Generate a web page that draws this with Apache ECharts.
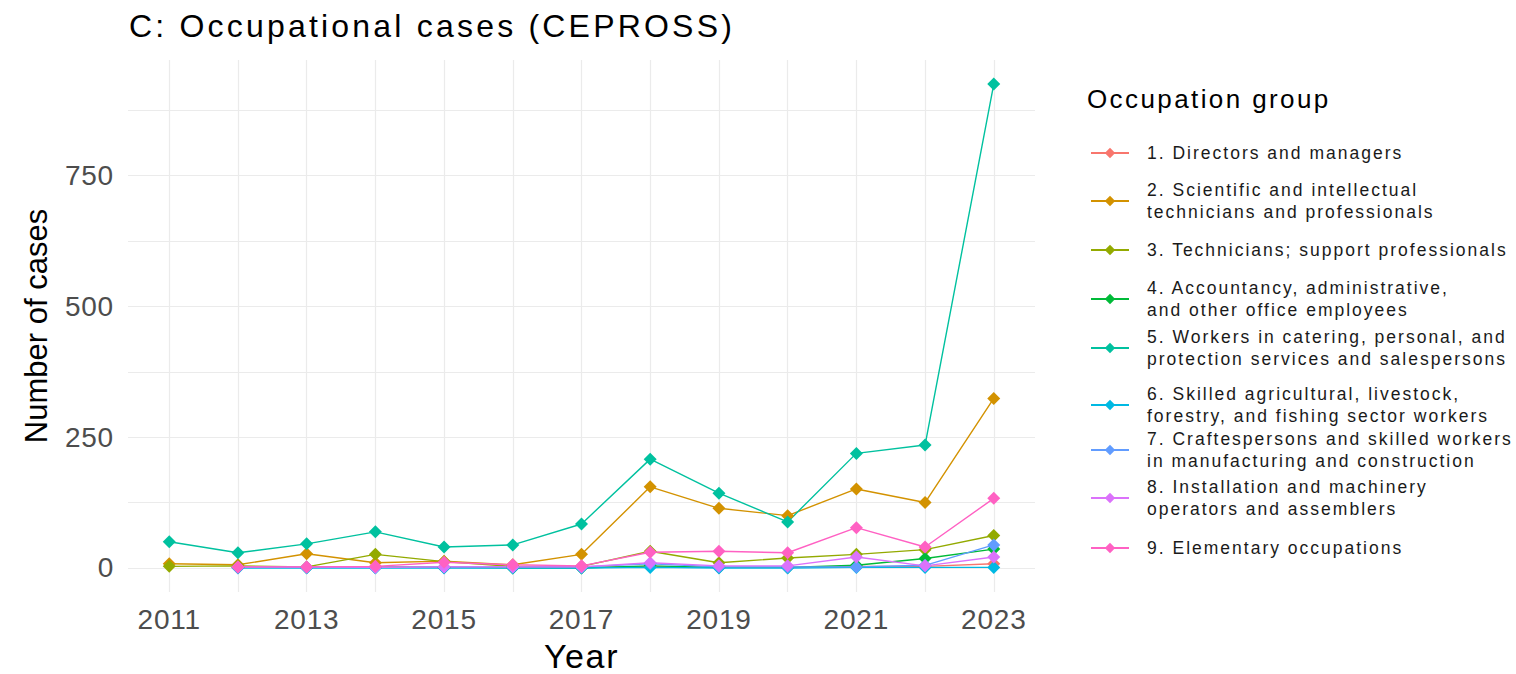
<!DOCTYPE html>
<html><head><meta charset="utf-8">
<script src="https://cdn.jsdelivr.net/npm/echarts@6/dist/echarts.min.js"></script>
<style>html,body{margin:0;padding:0;background:#fff}#c{width:1516px;height:674px}</style>
</head><body><div id="c"></div>
<script>
const years = [2011,2012,2013,2014,2015,2016,2017,2018,2019,2020,2021,2022,2023];
const xLabelYears = [2011,2013,2015,2017,2019,2021,2023];
const yTicks = [0,250,500,750];
const yMinor = [0,125,250,375,500,625,750,875];
const groupNames = [
  "1. Directors and managers",
  "2. Scientific and intellectual\ntechnicians and professionals",
  "3. Technicians; support professionals",
  "4. Accountancy, administrative,\nand other office employees",
  "5. Workers in catering, personal, and\nprotection services and salespersons",
  "6. Skilled agricultural, livestock,\nforestry, and fishing sector workers",
  "7. Craftespersons and skilled workers\nin manufacturing and construction",
  "8. Installation and machinery\noperators and assemblers",
  "9. Elementary occupations"
];
const g1 = [null,1,1,2,2,1,1,3,1,1,3,3,8];
const g2 = [8,6,27,10,13,6,26,155,114,100,151,125,324];
const g3 = [3,4,2,26,12,3,3,32,10,19,26,35,62];
const g4 = [null,1,1,1,1,0,0,4,1,1,5,18,36];
const g5 = [50,29,46,69,40,44,84,208,143,88,219,235,925];
const g6 = [null,0,0,0,0,0,0,1,0,0,1,1,1];
const g7 = [null,1,1,1,2,2,2,8,2,2,2,5,44];
const g8 = [null,2,2,1,2,2,2,10,4,4,21,4,21];
const g9 = [null,2,2,3,11,6,4,30,32,29,77,40,133];
const groupValues = [g1,g2,g3,g4,g5,g6,g7,g8,g9];
const colors = ['#F8766D','#D39200','#93AA00','#00BA38','#00C19F','#00B9E3','#619CFF','#DB72FB','#FF61C3'];

const legendCenters = [153,201,250,299,348,405,450,498,548];
const FONT = '"Liberation Sans", Arial, sans-serif';

const chart = echarts.init(document.getElementById('c'), null, {renderer:'svg'});
const series = groupNames.map((n,i)=>({
  name:n, type:'line', data: years.map((y,j)=>[y, groupValues[i][j]]),
  connectNulls:false, symbol:'diamond', symbolSize:13,
  itemStyle:{color:colors[i]}, lineStyle:{color:colors[i], width:1.4},
  emphasis:{disabled:true}, animation:false
}));
const legends = groupNames.map((n,i)=>{
  const lines = n.split('\n').length;
  const h = lines*22;
  return {
    data:[n], left:1090, top: legendCenters[i]-h/2, orient:'vertical',
    itemWidth:38, itemHeight:13, padding:0, selectedMode:false,
    textStyle:{fontFamily:FONT, fontSize:17.5, color:'#1a1a1a', lineHeight:22, padding:[0,0,0,13]}
  };
});
chart.setOption({
  animation:false,
  backgroundColor:'#fff',
  title:[
    {text:'C: Occupational cases (CEPROSS)', left:124, top:5, textStyle:{fontFamily:FONT, fontSize:32, fontWeight:'normal', color:'#000'}},
    {text:'Occupation group', left:1082, top:81, textStyle:{fontFamily:FONT, fontSize:26, fontWeight:'normal', color:'#000'}}
  ],
  legend: legends,
  grid:{left:128, right:481, top:60, bottom:82, containLabel:false, outerBoundsMode:'none'},
  xAxis:{
    type:'value', min:2010.4, max:2023.6,
    name:'Year', nameLocation:'middle', nameGap:47,
    nameTextStyle:{fontFamily:FONT, fontSize:34, color:'#000'},
    axisLine:{show:false},
    axisTick:{show:false, customValues: years},
    axisLabel:{customValues:xLabelYears, fontFamily:FONT, fontSize:28, color:'#4D4D4D', margin:13, formatter:v=>String(v)},
    splitLine:{show:true, lineStyle:{color:'#EBEBEB', width:1.2}}
  },
  yAxis:{
    type:'value', min:-46, max:971,
    name:'Number of cases', nameLocation:'middle', nameGap:76,
    nameTextStyle:{fontFamily:FONT, fontSize:31, color:'#000'},
    axisLine:{show:false},
    axisTick:{show:false, customValues: yMinor},
    axisLabel:{customValues:yTicks, fontFamily:FONT, fontSize:28, color:'#4D4D4D', margin:14},
    splitLine:{show:true, lineStyle:{color:'#EBEBEB', width:1.2}}
  },
  series: series
});
// Widen horizontal text spacing to mimic the reference's hinted text rendering
const spacingBySize = {32:3.2, 26:2.4, 17.5:2, 28:0.8, 34:1.6, 31:0};
document.querySelectorAll('#c svg text').forEach(t=>{
  const fs = parseFloat(getComputedStyle(t).fontSize);
  const sp = spacingBySize[fs];
  if (sp) t.style.letterSpacing = sp + 'px';
});
</script></body></html>
